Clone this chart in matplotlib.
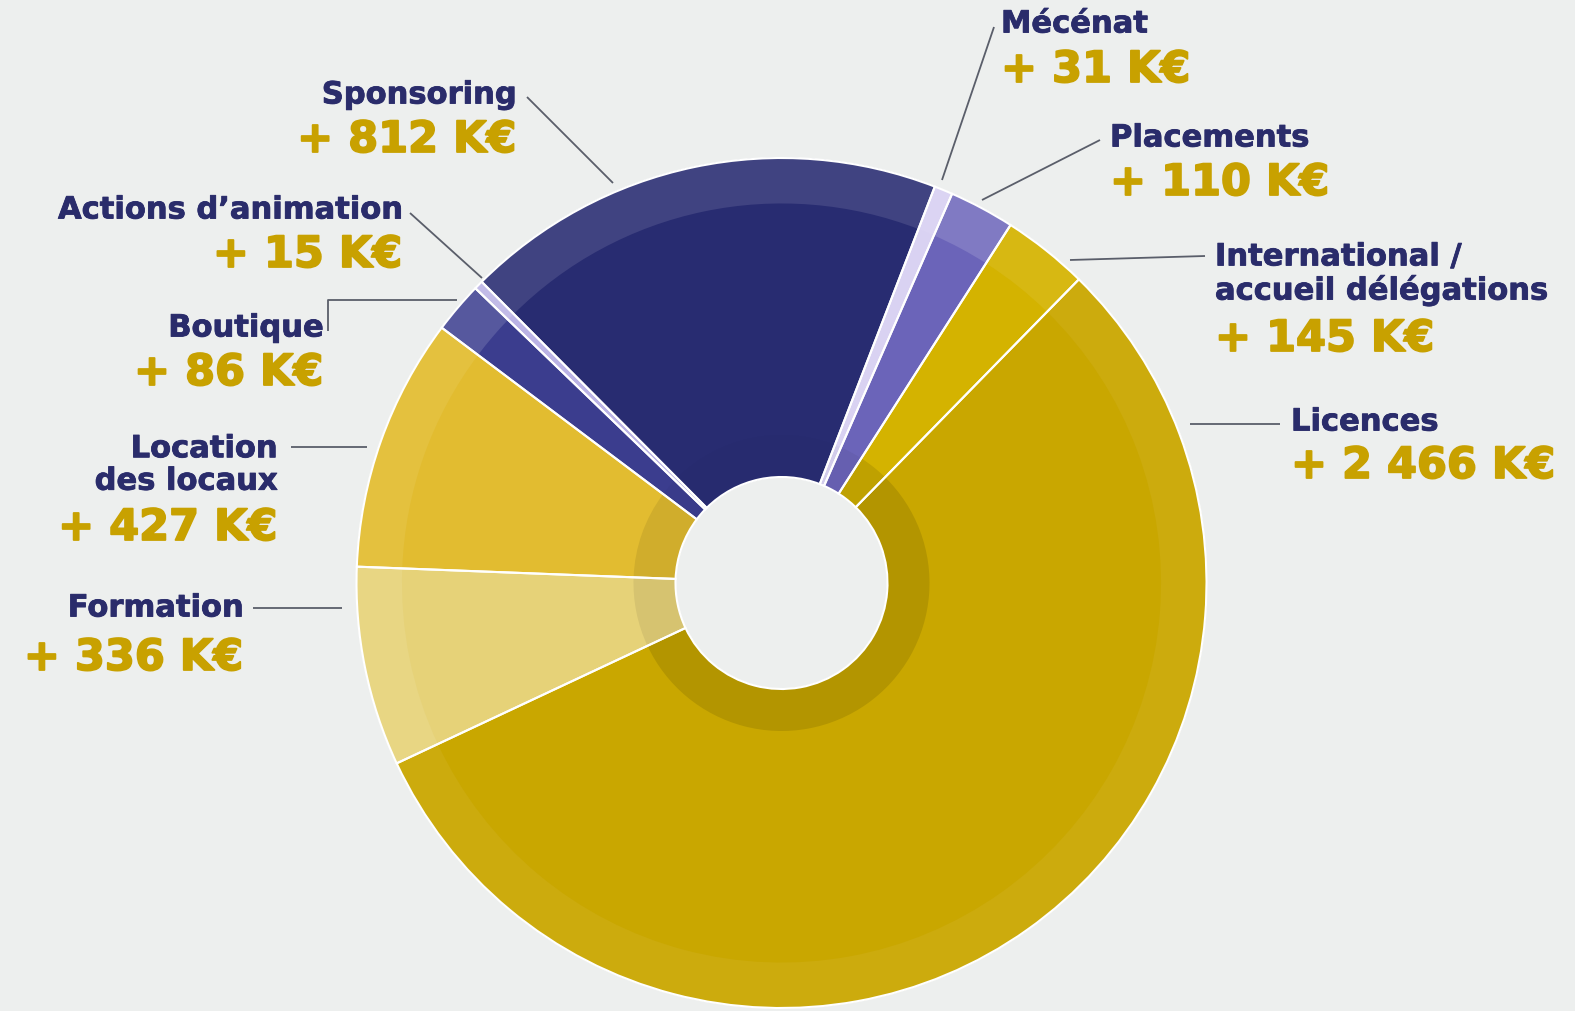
"""
Ressources donut chart (K€), recreated from a printed report page.
"""

import numpy as np
import matplotlib.pyplot as plt
import matplotlib.patheffects as pe
from matplotlib.colors import to_rgb

W, H = 1575, 1012

# slices, in clockwise order starting from the top-right
labels = ["Licences", "Formation", "Location\ndes locaux", "Boutique",
          "Actions d\u2019animation", "Sponsoring", "Mécénat", "Placements",
          "International /\naccueil délégations"]
values = [2466, 336, 427, 86, 15, 812, 31, 110, 145]
value_text = ["+ 2 466 K€", "+ 336 K€", "+ 427 K€", "+ 86 K€", "+ 15 K€",
              "+ 812 K€", "+ 31 K€", "+ 110 K€", "+ 145 K€"]
colors = ["#c9a700", "#e6d278", "#e2bc30", "#3b3d8e", "#bab2e4",
          "#282c71", "#d9d2f2", "#6b64b9", "#d4b300"]
# how much lighter the outer band is, how much darker the ring round the hole
band_light = [0.05, 0.08, 0.07, 0.14, 0.12, 0.11, 0.05, 0.14, 0.07]
ring_dark = [0.89, 0.93, 0.92, 0.97, 0.97, 0.98, 0.97, 0.95, 0.9]


def lighten(c, f):
    r = np.array(to_rgb(c))
    return tuple(r + (1 - r) * f)


def darken(c, f):
    return tuple(np.array(to_rgb(c)) * f)


if __name__ == "__main__":
    bg = "#edefee"
    navy = "#2a2c6b"
    gold = "#c8a100"

    fig = plt.figure(figsize=(W / 100, H / 100), dpi=100, facecolor=bg)
    ax = fig.add_axes([0, 0, 1, 1])
    ax.set_facecolor(bg)

    cx, cy = 781.5, H - 584
    R = 425
    r_band = 0.893 * R
    r_ring = 148
    r_hole = 106
    start = 45.6

    common = dict(center=(cx, cy), startangle=start, counterclock=False)

    # main body, full depth
    body, _ = ax.pie(values, radius=R, colors=colors,
                     wedgeprops=dict(width=R - r_hole, linewidth=0.6), **common)
    for w in body:
        w.set_edgecolor(w.get_facecolor())
    # outer lighter band
    ax.pie(values, radius=R,
           colors=[lighten(c, f) for c, f in zip(colors, band_light)],
           wedgeprops=dict(width=R - r_band, linewidth=0), **common)
    # darker ring around the hole
    ax.pie(values, radius=r_ring,
           colors=[darken(c, f) for c, f in zip(colors, ring_dark)],
           wedgeprops=dict(width=r_ring - r_hole, linewidth=0), **common)
    # white separators on top
    ax.pie(values, radius=R, colors=["none"] * len(values),
           wedgeprops=dict(width=R - r_hole, edgecolor="white", linewidth=1.5,
                           facecolor="none"), **common)

    ax.set_xlim(0, W)
    ax.set_ylim(0, H)
    ax.set_aspect("equal")
    ax.axis("off")

    # label anchors (pixel coords on the page): x, y of name, y of value, alignment
    name_pos = {
        "Licences": (1291, 423, 467, "left"),
        "Formation": (243, 609, 659, "right"),
        "Location\ndes locaux": (277, 466, 529, "right"),
        "Boutique": (323, 329, 374, "right"),
        "Actions d\u2019animation": (402, 211, 256, "right"),
        "Sponsoring": (516, 96, 141, "right"),
        "Mécénat": (1001, 25, 71, "left"),
        "Placements": (1110, 139, 184, "left"),
        "International /\naccueil délégations": (1215, 275, 340, "left"),
    }
    for lab, val in zip(labels, value_text):
        x, yn, yv, ha = name_pos[lab]
        ax.text(x, H - yn, lab, ha=ha, va="center", color=navy,
                fontsize=22, fontweight="bold", family="DejaVu Sans",
                linespacing=1.15, multialignment=ha,
                path_effects=[pe.withStroke(linewidth=0.6, foreground=navy)])
        ax.text(x, H - yv, val, ha=ha, va="center", color=gold,
                fontsize=31, fontweight="bold", family="DejaVu Sans",
                path_effects=[pe.withStroke(linewidth=1.3, foreground=gold)])

    # leader lines
    leaders = [
        [(994, 28), (942, 181)],
        [(1100, 141), (982, 201)],
        [(1205, 257), (1070, 261)],
        [(1190, 425), (1280, 425)],
        [(527, 98), (613, 184)],
        [(410, 214), (482, 279)],
        [(328, 332), (328, 301), (457, 301)],
        [(291, 448), (367, 448)],
        [(253, 609), (342, 609)],
    ]
    for pts in leaders:
        xs = [p[0] for p in pts]
        ys = [H - p[1] for p in pts]
        ax.plot(xs, ys, color="#5a5e6a", lw=1.3, solid_capstyle="butt")

    fig.savefig("out.png", dpi=100, facecolor=bg)
